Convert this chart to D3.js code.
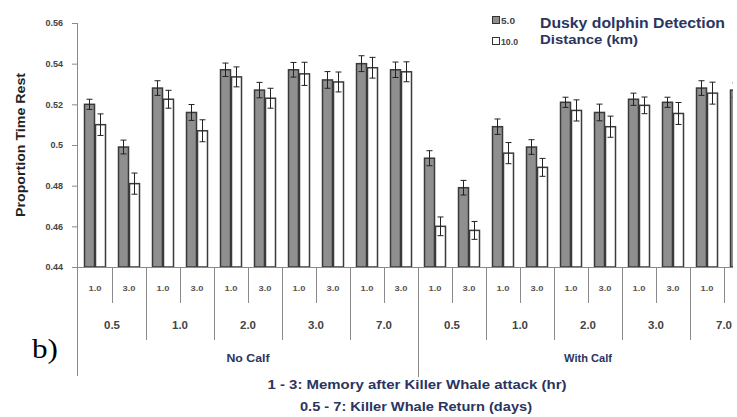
<!DOCTYPE html>
<html>
<head>
<meta charset="utf-8">
<script src="https://cdn.jsdelivr.net/npm/d3@7"></script>
<style>
  html, body { margin: 0; padding: 0; background: #fff; }
  svg { display: block; }
</style>
</head>
<body>
<svg id="chart" width="737" height="417"></svg>
<script>
// Calf status, killer whale return (days) and memory (hr) categories
const calfGroups = ["No Calf", "With Calf"];
const returnDays = ["0.5", "1.0", "2.0", "3.0", "7.0"];
const memoryHours = ["1.0", "3.0"];

// Detection distance series (km)
const seriesNames = ["5.0", "10.0"];

// Proportion of time resting, 20 categories in calf > return > memory order
const rest5 = [0.520, 0.499, 0.528, 0.516, 0.537, 0.527, 0.537, 0.532, 0.540, 0.537,
               0.4935, 0.479, 0.509, 0.499, 0.521, 0.516, 0.5225, 0.521, 0.528, 0.527];
const rest10 = [0.510, 0.481, 0.5225, 0.507, 0.5335, 0.523, 0.535, 0.531, 0.538, 0.536,
                0.460, 0.458, 0.496, 0.489, 0.517, 0.509, 0.5195, 0.5155, 0.5255, 0.524];
// Standard errors
const err5 = [0.0025, 0.0034, 0.0036, 0.0039, 0.0033, 0.0038, 0.0036, 0.0041, 0.0039, 0.0038,
              0.0037, 0.0036, 0.0038, 0.0036, 0.0025, 0.0041, 0.0030, 0.0025, 0.0036, 0.0036];
const err10 = [0.0053, 0.0052, 0.0044, 0.0054, 0.0049, 0.0049, 0.0057, 0.0049, 0.0051, 0.0049,
               0.0046, 0.0044, 0.0052, 0.0044, 0.0052, 0.0052, 0.0041, 0.0054, 0.0054, 0.0050];

// Y axis ticks
const yTicks = [0.44, 0.46, 0.48, 0.50, 0.52, 0.54, 0.56];
const yTickLabels = ["0.44", "0.46", "0.48", "0.5", "0.52", "0.54", "0.56"];

const textBlue = "#2a3560";
const axisGray = "#8a8a8a";
const fontFam = "'Liberation Sans', Arial, sans-serif";

const svg = d3.select("#chart");

// The figure panel ends a little before the right border
svg.append("defs").append("clipPath").attr("id", "panel")
  .append("rect").attr("x", 0).attr("y", 0).attr("width", 733).attr("height", 417);
const plot = svg.append("g").attr("clip-path", "url(#panel)");

// Helper for wide, bold labels
function label(g, x, yy, txt, size, fill, len, anchor) {
  const t = g.append("text").attr("x", x).attr("y", yy)
    .attr("text-anchor", anchor || "middle").attr("font-family", fontFam)
    .attr("font-size", size).attr("font-weight", "bold").attr("fill", fill).text(txt);
  if (len) t.attr("textLength", len).attr("lengthAdjust", "spacingAndGlyphs");
  return t;
}

// Build category table from the arrays
const cats = [];
calfGroups.forEach(c => returnDays.forEach(r => memoryHours.forEach(m => {
  cats.push({ calf: c, ret: r, mem: m });
})));
cats.forEach((d, i) => {
  d.key = i;
  d.vals = [
    { s: seriesNames[0], v: rest5[i], e: err5[i] },
    { s: seriesNames[1], v: rest10[i], e: err10[i] }
  ];
});

const x0 = d3.scaleBand().domain(cats.map(d => d.key)).range([78, 758]).padding(0);
const x1 = d3.scaleBand().domain(seriesNames).range([6, 28]).padding(0);
const y = d3.scaleLinear().domain([0.44, 0.56]).range([267, 23]);

const fills = { "5.0": "#8f8f8f", "10.0": "#ffffff" };
const strokes = { "5.0": "#3a3a3a", "10.0": "#3a3a3a" };

// Y axis
const yAxis = d3.axisLeft(y).tickValues(yTicks)
  .tickFormat((d, i) => yTickLabels[i]).tickSize(5).tickSizeOuter(0);
const gy = svg.append("g").attr("transform", "translate(77,0)").call(yAxis);
gy.select(".domain").remove();
gy.selectAll(".tick line").attr("stroke", axisGray);
gy.selectAll(".tick text").attr("font-family", fontFam).attr("font-size", 9)
  .attr("font-weight", "bold").attr("fill", "#444").attr("x", -14);

// Axis line extends down through the category label area
svg.append("line").attr("x1", 77.5).attr("x2", 77.5).attr("y1", y(0.56)).attr("y2", 376)
  .attr("stroke", axisGray);

// Bars
const catG = plot.append("g").selectAll("g").data(cats).join("g")
  .attr("transform", d => `translate(${x0(d.key)},0)`);

catG.selectAll("rect").data(d => d.vals).join("rect")
  .attr("x", d => x1(d.s) + 0.5)
  .attr("y", d => y(d.v))
  .attr("width", x1.bandwidth() - 1)
  .attr("height", d => y(0.44) - y(d.v))
  .attr("fill", d => fills[d.s])
  .attr("stroke", d => strokes[d.s])
  .attr("stroke-width", 1.5);

// Error bars
const eb = catG.selectAll("g.err").data(d => d.vals).join("g").attr("class", "err");
eb.append("line")
  .attr("x1", d => x1(d.s) + x1.bandwidth() / 2).attr("x2", d => x1(d.s) + x1.bandwidth() / 2)
  .attr("y1", d => y(d.v + d.e)).attr("y2", d => y(d.v - d.e))
  .attr("stroke", "#222").attr("stroke-width", 1);
[1, -1].forEach(sgn => {
  eb.append("line")
    .attr("x1", d => x1(d.s) + x1.bandwidth() / 2 - 3).attr("x2", d => x1(d.s) + x1.bandwidth() / 2 + 3)
    .attr("y1", d => y(d.v + sgn * d.e)).attr("y2", d => y(d.v + sgn * d.e))
    .attr("stroke", "#222").attr("stroke-width", 1);
});

// Baseline
plot.append("line").attr("x1", 77).attr("x2", 758).attr("y1", 267.5).attr("y2", 267.5)
  .attr("stroke", axisGray);

// Category separators
const bw = x0.bandwidth();
d3.range(1, cats.length).forEach(i => {
  const xx = Math.round(78 + i * bw) + 0.5;
  const y2 = i % 10 === 0 ? 377 : (i % 2 === 0 ? 340 : 303);
  plot.append("line").attr("x1", xx).attr("x2", xx).attr("y1", 267).attr("y2", y2)
    .attr("stroke", axisGray);
});

// Memory labels (only those whose band lies inside the panel)
const gMem = plot.append("g");
cats.filter(d => x0(d.key) + bw <= 733)
  .forEach(d => label(gMem, x0(d.key) + bw / 2, 291, d.mem, 8, "#555", 13));

// Return-day labels
const gRet = plot.append("g");
calfGroups.forEach((c, ci) => returnDays.forEach((r, ri) => {
  const idx = ci * 10 + ri * 2;
  label(gRet, x0(idx) + bw, 329, r, 10.5, "#444", 16);
}));

// Calf labels
const gCalf = svg.append("g");
calfGroups.forEach((c, i) => label(gCalf, x0(i * 10) + bw * 5, 362, c, 10, textBlue, i === 0 ? 43 : 48));

// X axis titles
label(svg, 417, 389, "1 - 3: Memory after Killer Whale attack  (hr)", 12, textBlue, 299);
label(svg, 416, 411, "0.5 - 7: Killer Whale Return (days)", 12, textBlue, 232);

// Y axis title
label(svg, 0, 0, "Proportion Time Rest", 12, "#222", 144)
  .attr("transform", "translate(25,145) rotate(-90)");

// Panel tag
svg.append("text").attr("x", 32).attr("y", 358)
  .attr("font-family", "'Liberation Serif', 'Times New Roman', serif")
  .attr("font-size", 27).attr("fill", "#000")
  .attr("textLength", 26).attr("lengthAdjust", "spacingAndGlyphs").text("b)");

// Legend
const leg = svg.append("g");
seriesNames.forEach((s, i) => {
  const ly = 16 + i * 21;
  leg.append("rect").attr("x", 492.5).attr("y", ly + 0.5).attr("width", 7).attr("height", 7)
    .attr("fill", fills[s]).attr("stroke", "#333").attr("stroke-width", 1);
  label(leg, 501, ly + 7.5, s, 9, "#444", i === 0 ? 14 : 17, "start");
});
label(leg, 540, 28, "Dusky dolphin Detection", 14, textBlue, 185, "start");
label(leg, 540, 44, "Distance (km)", 12, textBlue, 98, "start");
</script>
</body>
</html>
